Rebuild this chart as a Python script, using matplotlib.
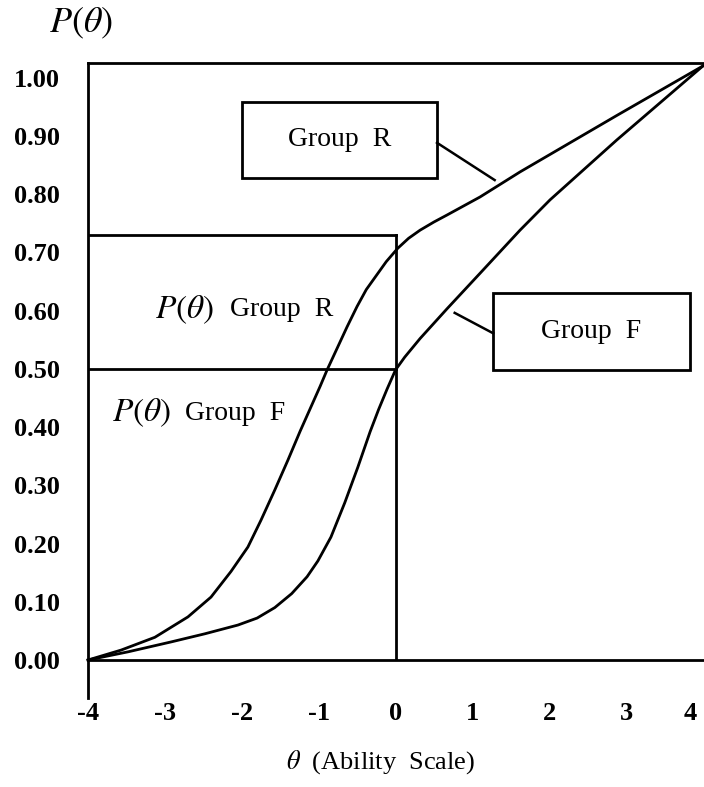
import matplotlib
matplotlib.use("Agg")
import matplotlib.pyplot as plt
import matplotlib.transforms as mtransforms
from matplotlib.patches import Rectangle

plt.rcParams['font.family'] = ['Liberation Serif', 'DejaVu Serif']
plt.rcParams['mathtext.fontset'] = 'stix'

# ---- data ----
theta_R = [-4.00, -3.57, -3.13, -2.70, -2.40, -2.14, -1.92, -1.75, -1.57, -1.40,
           -1.24, -0.98, -0.89, -0.63, -0.50, -0.38, -0.25, -0.12, 0.03, 0.17,
           0.32, 0.50, 0.67, 1.10, 1.62, 2.01, 2.88, 4.00]
p_R = [0.000, 0.017, 0.039, 0.074, 0.108, 0.152, 0.194, 0.240, 0.292, 0.343,
       0.393, 0.470, 0.498, 0.572, 0.607, 0.636, 0.660, 0.684, 0.707, 0.724,
       0.738, 0.752, 0.764, 0.795, 0.838, 0.868, 0.935, 1.020]

theta_F = [-4.00, -3.48, -2.92, -2.48, -2.05, -1.80, -1.57, -1.35, -1.15, -1.01,
           -0.84, -0.66, -0.49, -0.33, -0.22, -0.11, 0.00, 0.12, 0.32, 0.67,
           1.10, 1.62, 2.01, 2.88, 4.00]
p_F = [0.000, 0.014, 0.031, 0.045, 0.060, 0.072, 0.090, 0.114, 0.143, 0.170,
       0.211, 0.270, 0.331, 0.392, 0.430, 0.465, 0.498, 0.520, 0.552, 0.603,
       0.664, 0.738, 0.790, 0.893, 1.020]

theta_ref = 0.0          # ability point marked by the vertical line
p_ref_R = 0.73           # P(theta) of Group R at theta_ref
p_ref_F = 0.50           # P(theta) of Group F at theta_ref

x_ticks = [-4, -3, -2, -1, 0, 1, 2, 3, 4]
x_tick_labels = ['-4', '-3', '-2', '-1', '0', '1', '2', '3', '4']
y_ticks = [0.0, 0.1, 0.2, 0.3, 0.4, 0.5, 0.6, 0.7, 0.8, 0.9, 1.0]
y_tick_labels = ['0.00', '0.10', '0.20', '0.30', '0.40', '0.50',
                 '0.60', '0.70', '0.80', '0.90', '1.00']

# ---- figure ----
fig = plt.figure(figsize=(7.04, 7.87), dpi=100)
ax = fig.add_axes([88/704, 1 - 660/787, 615/704, 597/787])
ax.set_xlim(-4, 4)
ax.set_ylim(0, 1.025)

lw = 2.0
ax.plot(theta_R, p_R, color='black', lw=lw, solid_joinstyle='round', clip_on=False)
ax.plot(theta_F, p_F, color='black', lw=lw, solid_joinstyle='round', clip_on=False)

# reference lines
ax.plot([-4, theta_ref], [p_ref_R, p_ref_R], color='black', lw=lw)
ax.plot([-4, theta_ref], [p_ref_F, p_ref_F], color='black', lw=lw)
ax.plot([theta_ref, theta_ref], [0, p_ref_R], color='black', lw=lw)

# left axis extension below zero
ax.plot([-4, -4], [0, -0.065], color='black', lw=lw, clip_on=False)

# spines
for s in ['left', 'bottom', 'top']:
    ax.spines[s].set_linewidth(lw)
ax.spines['right'].set_visible(False)

ax.set_xticks(x_ticks)
ax.set_xticklabels(x_tick_labels, fontsize=19, fontweight='bold')
ax.set_yticks(y_ticks)
ax.set_yticklabels(y_tick_labels, fontsize=19, fontweight='bold')
ax.tick_params(length=0)
ax.tick_params(axis='y', pad=20)
ax.tick_params(axis='x', pad=30)
lbl = ax.get_xticklabels()[-1]
lbl.set_transform(lbl.get_transform() + mtransforms.ScaledTranslation(-0.13, 0, fig.dpi_scale_trans))

ax.set_xlabel(r'$\theta$  (Ability  Scale)', fontsize=19)
ax.xaxis.set_label_coords((381 - 88) / 615, (660 - 762) / 597)
ax.xaxis.label.set_verticalalignment('center')
ax.set_ylabel(r'$P(\theta)$', fontsize=26, rotation=0)
ax.yaxis.set_label_coords((81 - 88) / 615, (660 - 23) / 597)
ax.yaxis.label.set_verticalalignment('center')
ax.yaxis.label.set_horizontalalignment('center')

# boxed labels with leader lines
ax.add_patch(Rectangle((-2.0, 0.828), 2.54, 0.130, fill=False, lw=lw, ec='black'))
ax.text(-0.73, 0.893, 'Group  R', ha='center', va='center', fontsize=20)
ax.plot([0.54, 1.29], [0.888, 0.824], color='black', lw=1.8)

ax.add_patch(Rectangle((1.27, 0.498), 2.56, 0.132, fill=False, lw=lw, ec='black'))
ax.text(2.55, 0.564, 'Group  F', ha='center', va='center', fontsize=20)
ax.plot([0.77, 1.27], [0.596, 0.561], color='black', lw=1.8)

# in-plot labels
ax.text(-3.13, 0.601, r'$P(\theta)$', ha='left', va='center', fontsize=24)
ax.text(-2.15, 0.601, 'Group  R', ha='left', va='center', fontsize=20)
ax.text(-3.69, 0.424, r'$P(\theta)$', ha='left', va='center', fontsize=24)
ax.text(-2.74, 0.424, 'Group  F', ha='left', va='center', fontsize=20)

fig.savefig('out.png', dpi=100)
